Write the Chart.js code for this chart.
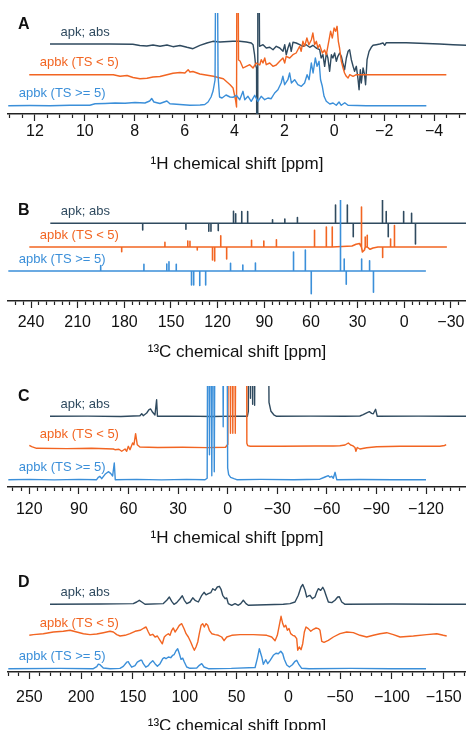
<!DOCTYPE html>
<html><head><meta charset="utf-8">
<script src="https://cdn.jsdelivr.net/npm/chart.js@4/dist/chart.umd.min.js"></script>
<style>
html,body{margin:0;padding:0;background:#fff;overflow:hidden;width:466px;height:730px;position:relative;}
canvas{position:absolute;left:0;}
</style></head><body>
<canvas id="cA"></canvas><canvas id="cB"></canvas><canvas id="cC"></canvas><canvas id="cD"></canvas>
<script>
// ---------- labels / categories ----------
const traceLabels = ['apbk (TS >= 5)', 'apbk (TS < 5)', 'apk; abs'];
const titleH = '\u00B9H chemical shift [ppm]';
const titleC = '\u00B9\u00B3C chemical shift [ppm]';
const aTicks = [12, 10, 8, 6, 4, 2, 0, -2, -4];
const bTicks = [240, 210, 180, 150, 120, 90, 60, 30, 0, -30];
const cTicks = [120, 90, 60, 30, 0, -30, -60, -90, -120];
const dTicks = [250, 200, 150, 100, 50, 0, -50, -100, -150];

// ---------- Panel A: 1H spectra [ppm, intensity] ----------
const aBlue = [[13.07,0],[12.20,0.2],[11.40,0],[10.60,0.4],[9.80,0.5],[9.59,1.9],[9.19,2.2],[8.79,2.7],[8.39,2.4],[7.99,3.2],[7.59,2.7],[7.40,4.7],[7.32,7.2],[7.23,3.7],[6.99,2.2],[6.71,4.7],[6.59,2],[6.19,1.2],[5.79,0.5],[5.38,0.7],[5.19,1.2],[5.06,3.7],[4.94,8.7],[4.86,14.7],[4.78,25.7],[4.72,300],[4.66,30],[4.60,8.7],[4.50,7.7],[4.34,10.7],[4.18,8.7],[4.06,8.4],[3.93,10.4],[3.79,6],[3.66,14.4],[3.59,6],[3.46,9.4],[3.33,4.4],[3.19,10.4],[3.06,4.4],[2.93,9.4],[2.79,6],[2.66,7.7],[2.53,7],[2.39,12.7],[2.26,16],[2.13,22.7],[2.06,29.4],[1.99,21],[1.86,26],[1.79,32.7],[1.72,22.7],[1.59,26],[1.46,21],[1.32,19.4],[1.19,22.7],[1.09,31],[1.01,26],[0.92,42.7],[0.85,32.7],[0.76,47.7],[0.69,39.4],[0.61,44.4],[0.55,26],[0.48,19.4],[0.41,9.4],[0.32,4.4],[0.18,1.7],[0.05,2.7],[-0.08,0.4],[-0.19,3.7],[-0.28,0.4],[-0.42,3],[-0.55,0.4],[-1.28,0],[-2.62,0],[-3.69,0]];
const aOrange = [[13.07,0],[12.24,0],[11.04,0],[9.70,0],[9.43,-1.6],[9.15,-0.8],[8.91,-2.8],[8.63,-4],[8.35,-3.6],[8.11,-2.3],[7.83,-1.8],[7.55,0],[7.31,1.4],[7.03,2.2],[6.83,1.7],[6.70,5],[6.63,2.7],[6.51,3.2],[6.23,0.7],[5.69,-1.6],[5.29,-4],[5.02,-10],[4.90,-13.3],[4.80,-25.3],[4.76,-32.3],[4.73,300],[4.68,14.7],[4.62,13.7],[4.50,6.7],[4.37,8.4],[4.23,10],[4.10,6.7],[3.97,11.7],[3.83,9.7],[3.77,15],[3.70,11.7],[3.63,16.7],[3.57,10],[3.43,11.7],[3.30,8.4],[3.17,9.7],[3.03,13.4],[2.90,16.7],[2.83,11.7],[2.77,18.4],[2.63,16.7],[2.50,20],[2.37,21.7],[2.23,28.4],[2.17,23.4],[2.10,33.4],[2.03,28.4],[1.94,36.7],[1.86,30],[1.76,35],[1.70,41.7],[1.63,30],[1.56,33.4],[1.50,26.7],[1.43,30],[1.32,21.7],[1.23,24.7],[1.16,20],[1.05,35],[0.99,43.4],[0.92,36.7],[0.85,46.7],[0.79,43.4],[0.73,48.4],[0.68,33.4],[0.63,26.7],[0.56,13.4],[0.49,6.7],[0.43,1.7],[0.36,-1.6],[0.29,-3.3],[0.22,0],[0.09,-1.6],[-0.04,0],[-0.44,0],[-3.65,0]];
const aDark = [[13.08,0],[11.88,0],[10.68,0],[9.76,-0.3],[9.48,-1.5],[9.20,-2],[8.95,-1],[8.67,-2.3],[8.39,-1],[8.15,-2.7],[7.87,-1.5],[7.59,-3.3],[7.35,-4.7],[7.07,-1.3],[6.79,1],[6.55,2.7],[6.27,2],[5.75,2.7],[5.48,2.7],[5.21,2],[5.01,1],[4.94,-0.7],[4.88,-10.7],[4.84,-20.7],[4.80,-24],[4.77,-300],[4.75,300],[4.68,-2.3],[4.54,-0.7],[4.41,-4],[4.27,-3.3],[4.14,-5.7],[4.01,-2.3],[3.87,-4],[3.74,-7.3],[3.67,-0.7],[3.61,-10.7],[3.54,-4],[3.47,1],[3.41,-7.3],[3.34,1.7],[3.21,1],[3.07,-0.7],[2.94,-2.3],[2.81,-0.7],[2.67,-3.3],[2.54,-1.3],[2.41,-4],[2.27,-5.7],[2.21,-14],[2.14,-10.7],[2.07,-22.3],[2.00,-9],[1.94,-14],[1.87,-27.3],[1.80,-10.7],[1.74,-14],[1.67,-9],[1.60,-17.3],[1.54,-12.3],[1.47,-9],[1.40,-12.3],[1.34,-19],[1.27,-25.7],[1.20,-14],[1.13,-7.3],[1.07,-5.7],[1.00,-15.7],[0.93,-22.3],[0.87,-27.3],[0.80,-22.3],[0.73,-35.7],[0.69,-45.7],[0.64,-25.7],[0.60,-39],[0.53,-24],[0.47,-30.7],[0.43,-40.7],[0.37,-15.7],[0.29,-7.3],[0.20,-3.3],[0.13,-1.3],[0.00,-0.7],[-0.14,0],[-0.27,1],[-0.34,-1.3],[-0.40,1.3],[-0.67,1.3],[-1.20,1.3],[-1.74,0.7],[-2.54,0],[-3.08,-0.7],[-3.68,-1.3]];

// ---------- Panel B: 13C stick spectra ----------
const bRange = [254.6, -13.9];
const bShifts = [195.2, 167.4, 152.7, 151.3, 146.6, 136.8, 135.4, 131.5, 127.7, 111.7, 103.8, 95.7, 71.2, 63.6, 59.8, 41.0, 38.6, 37.3, 27.4, 22.3, 19.8];
const bBlue   = [5.5, 6.7, 7, 9.3, 6.7, -14, -14, -14.5, -14, 7.7, 6, 8, 19, 21, -22.7, 80, 12, -13.3, 12, 10.3, -21.3];
const bOrange = [-4.7, 4.7, 6, 5.7, -3, -13, -14, 11.3, -12, 6.7, 6, 7.3, 16.7, 20, 20, 40, 10, 11.7, -10.5, 8, 21.5];
const bDark   = [-6.6, -6, -8, -8, -7.3, 12, 9.4, 11.7, 11.7, 3.5, 4.3, 5.7, 18.3, 18.3, -13.4, 40, 11.7, -13.4, 11.7, 10, -20.7];
const bOrangeBaseline = [[47.1,1],[44.5,2.7],[42.3,3.5],[40.4,-5],[39.1,-3],[37.8,0],[35.5,-2.3],[33.6,-1],[30.4,0]];

// ---------- Panel C: 1H spectra ----------
const cBlue = [[132.7,0],[120,0.3],[105,-0.2],[90,0.3],[79.3,0],[78.3,2.4],[77.3,3.4],[76.2,1],[74.2,5.4],[72.2,8],[70.8,6.4],[69.6,3.7],[68.6,16.7],[68.0,0],[55,0.3],[40,-0.2],[25,0.3],[13.7,0],[12.4,1.5],[11.8,300],[11.0,25],[10.3,300],[9.6,4],[8.8,300],[8.1,8],[7.3,300],[3.3,300],[2.7,53],[2.1,300],[0.7,300],[0.0,11.7],[-0.6,5],[-1.8,2.3],[-3.8,1],[-5.5,0],[-20,0.3],[-40,0],[-55.8,0.5],[-58.9,2.7],[-60.9,4],[-61.9,2.5],[-62.9,3.4],[-63.9,1.5],[-65.0,7.4],[-66.0,0],[-80,0.2],[-100,0],[-120,0]];
const cOrange = [[132.7,1],[131.3,-0.3],[128.3,-2],[110,-2.3],[95,-2],[81.9,-2.7],[80.9,-3.4],[78.5,-3],[76.8,-5],[74.8,-2.7],[73.8,-5],[72.8,0],[71.8,-3.4],[70.2,3.3],[69.4,1.6],[68.4,12.6],[67.4,1.6],[65.8,-0.7],[55,-1.2],[40,-1],[25,-1.3],[14,-1],[12.6,2],[11.8,300],[11.0,13],[10.3,300],[9.6,13],[8.8,300],[8.1,13],[7.3,300],[1.5,300],[1.1,3],[0.6,0.7],[-1,0],[-20,0],[-40,0.3],[-51.2,0.3],[-55.2,0.6],[-58.3,1.3],[-60.3,3.3],[-61.7,1.3],[-62.9,0.7],[-64.3,-1.2],[-64.9,-5],[-65.7,-1.2],[-67.3,-2.7],[-71.4,-1.5],[-77.4,-0.5],[-91.5,0],[-115.7,0],[-118.5,0.8],[-119.5,1.6]];
const cDark = [[132.9,0],[110,0.2],[90,-0.2],[78.5,0.6],[77.4,2.6],[76.5,0.6],[74.4,3.3],[73.0,6.6],[72.0,7.3],[70.8,4],[69.4,1.3],[68.4,16.5],[67.9,0],[50,0.2],[35,-0.2],[20,0.2],[13.5,0],[12.9,5],[12.3,300],[11.6,18],[10.9,300],[10.3,12],[9.9,300],[9.1,11],[8.3,300],[1.6,300],[0.4,14],[-0.8,5],[-2.5,1.5],[-4.2,0],[-25,0.2],[-45,0],[-54.6,0.3],[-56.6,1.6],[-58.7,3.5],[-60.3,4.6],[-61.7,3],[-62.7,2.5],[-64.1,7],[-65.1,0],[-90,0.2],[-110,0],[-120,0]];

// ---------- Panel D: 13C spectra ----------
const dBlue = [[270.3,0],[220.4,0.3],[188.2,0],[184.9,2],[183.4,4.5],[181.8,4],[178.6,0.7],[172.1,0],[162.5,0.3],[159.3,2.3],[156.0,6.5],[154.4,7],[153.5,5],[151.2,1.5],[148.0,3],[145.8,6.5],[142.5,8.5],[141.5,8.5],[140.0,5],[137.6,1.5],[135.1,3],[133.5,5.5],[130.9,8],[128.7,5],[126.4,2.4],[123.8,5],[121.2,10],[119.7,11],[118.1,10],[115.8,11.7],[113.5,11],[111.6,13.4],[110.3,14],[108.4,18],[106.8,20],[105.2,15],[103.6,9.4],[101.9,10.5],[100.4,6.7],[98.1,1.7],[94.9,0.4],[88.4,0.7],[85.9,3.4],[83.6,5],[81.4,1.7],[77.2,0],[55,0.3],[32.1,1.2],[29.9,10.4],[28.0,20],[25.7,12],[24.1,4.4],[21.8,9],[19.9,5],[17.7,8],[14.5,13.4],[11.9,15.5],[9.7,15],[7.3,17.5],[5.4,15],[3.9,9.4],[1.5,3.7],[-1.0,1.7],[-3.9,4],[-6.5,7.4],[-8.1,8.4],[-10.3,4],[-12.9,0.4],[-20,0],[-60,0.3],[-100,0],[-132.9,0]];
const dOrange = [[270.3,0],[266.4,0.7],[256.8,1.6],[247.1,3.3],[237.5,4],[231.0,5],[224.5,3.3],[218.1,1.6],[211.7,0.7],[205.2,1.3],[198.8,2.6],[192.4,4],[189.2,3.3],[185.9,0.7],[182.7,-0.7],[177.9,0],[173.1,1.6],[168.2,4],[163.4,5],[159.6,7.3],[157.6,8.3],[155.4,3.3],[153.8,0],[151.2,1],[148.9,-1.7],[146.7,-0.7],[144.1,-5],[141.9,-8.5],[140.0,-1.7],[138.3,0],[136.1,1.6],[134.5,0],[132.8,5],[131.3,7.3],[129.6,3.3],[127.4,6.6],[125.5,10],[123.2,11.6],[120.9,6.6],[119.0,1.6],[116.8,-1.7],[114.5,-6.7],[112.5,-11.7],[111.0,-15],[109.4,-11.7],[107.7,-6.7],[106.2,1.6],[104.5,10],[102.9,11.6],[101.4,8.3],[99.7,11.6],[98.1,10],[96.5,5],[94.2,1.6],[91.0,0.7],[87.8,0],[84.6,-1.7],[82.3,-5.4],[79.7,-1.7],[74.9,0],[66.9,0.7],[54.1,0.7],[41.1,0],[36.3,-1.7],[33.1,-5.4],[30.9,0],[29.0,10],[27.3,19],[25.7,11.7],[24.4,8.3],[22.8,10],[21.2,5],[19.6,6.7],[18.0,1.7],[16.0,0],[14.1,-0.7],[12.2,-3.3],[11.2,-15],[9.7,-11.7],[8.0,-14.4],[6.4,-8.4],[4.8,3.3],[3.2,8.3],[1.0,6.7],[-1.4,4],[-3.9,6],[-6.5,7.3],[-8.7,6.7],[-10.3,5],[-12.0,-6],[-14.2,-7],[-18.3,-5],[-23.2,-1.7],[-29.6,1.7],[-36.1,3.3],[-42.5,2.7],[-48.9,0],[-55.4,-1.7],[-61.8,0],[-68.2,1.6],[-74.7,2.6],[-81.1,0.7],[-87.6,-1.7],[-100.4,-0.7],[-113.3,0.7],[-123.0,1.6],[-129.3,0],[-132.6,-0.7]];
const dDark = [[270.6,0],[222,0.3],[190.2,0.7],[186.9,2.3],[184.4,4],[182.0,2.3],[178.9,0],[161.2,0.7],[157.9,4],[155.4,7.3],[153.1,3],[150.9,0],[148.3,1.7],[145.1,5.6],[142.9,8.5],[140.9,4],[138.6,0.7],[135.4,2.3],[132.8,6.5],[130.6,4],[127.4,2.3],[124.1,9],[121.9,12],[120.0,9.5],[117.8,10.6],[115.4,11.6],[113.5,15.6],[111.3,14],[109.1,17.3],[107.1,18],[105.5,15],[103.9,9],[101.6,5.6],[100.0,6.3],[98.5,0.7],[95.2,-1],[92.0,0.7],[88.8,-1],[86.5,0.7],[84.0,4],[81.4,0.7],[79.2,-1],[45.4,0],[38.9,0.7],[34.1,2.3],[30.9,9],[28.3,17.3],[26.6,19.8],[24.4,14],[22.8,7.3],[21.2,8.3],[19.6,9],[17.4,5.6],[14.8,7.3],[13.1,12.3],[11.6,15.6],[9.3,14],[7.3,17],[5.8,14],[4.2,9],[1.9,2.3],[-1.4,1.7],[-4.5,4],[-7.1,7.3],[-8.7,7.6],[-11.0,2.3],[-14.2,0],[-60,0.3],[-100,0],[-132.9,0]];

// ---------- styling / layout ----------
const FONT = "'Liberation Sans', Arial, Helvetica, sans-serif";
const traceColors = ['#3b8fd9', '#f26522', '#2f4a5f'];
const SHIFT_PX = 21;       // horizontal stagger between stacked traces
const PLOT_LEFT = 8;
const W = 466;

function stickTrace(heights, baseline) {
  const pts = [[bRange[0], 0]];
  bShifts.forEach((s, i) => { pts.push([s, 0], [s, heights[i]], [s, 0]); });
  (baseline || []).forEach(b => pts.push(b));
  pts.push([bRange[1], 0]);
  return pts.sort((a, b) => b[0] - a[0]);
}

const panels = [
  {id:'cA', letter:'A', top:0, height:178, chartTop:13, axisY:114, left:13.08, right:-5.28,
   majors:aTicks, minorStep:0.5, title:titleH, tickPad:1, titlePad:12, offsets:[8.3, 39.3, 70],
   letterY:28.5, lw:1.4, traces:[aBlue, aOrange, aDark]},
  {id:'cB', letter:'B', top:185, height:181, chartTop:200, axisY:301, left:254.8, right:-39.7,
   majors:bTicks, minorStep:5, title:titleC, tickPad:5, titlePad:5, offsets:[30, 54, 77.7],
   letterY:214.5, lw:1.6, traces:[stickTrace(bBlue), stickTrace(bOrange, bOrangeBaseline), stickTrace(bDark)]},
  {id:'cC', letter:'C', top:370, height:182, chartTop:386, axisY:487, left:132.9, right:-144.2,
   majors:cTicks, minorStep:5, title:titleH, tickPad:6, titlePad:3, offsets:[7.3, 40.7, 70.7],
   letterY:400.5, lw:1.4, traces:[cBlue, cOrange, cDark]},
  {id:'cD', letter:'D', top:555, height:186, chartTop:574, axisY:672, left:270.6, right:-171.5,
   majors:dTicks, minorStep:10, title:titleC, tickPad:9, titlePad:0, offsets:[3.3, 36.7, 67.7],
   letterY:587, lw:1.4, traces:[dBlue, dOrange, dDark]}
];

function fmt(v) { return v < 0 ? '\u2212' + Math.abs(v) : String(v); }

function makeChart(p) {
  const cv = document.getElementById(p.id);
  cv.width = W; cv.height = p.height; cv.style.top = p.top + 'px';
  const ppmPerPx = (p.left - p.right) / (W - PLOT_LEFT);
  const shift = SHIFT_PX * ppmPerPx;
  const tickFont = 16, titleFont = 17, tickLen = 7;
  const axisH = tickLen + 2 * p.tickPad + tickFont * 1.2 + p.titlePad + titleFont * 1.2;
  const padBottom = p.height - (p.axisY - p.top) - axisH;
  const tickVals = [];
  for (let v = Math.ceil(p.right / p.minorStep) * p.minorStep; v <= p.left + 1e-9; v += p.minorStep) tickVals.push(+v.toFixed(6));
  const isMajor = v => p.majors.some(m => Math.abs(m - v) < 1e-6);
  const axisIds = ['x', 'x1', 'x2'];
  const datasets = p.traces.map((tr, k) => ({
    label: traceLabels[k],
    data: tr.map(([x, y]) => ({x: x, y: y + p.offsets[k]})),
    xAxisID: axisIds[k], yAxisID: 'y',
    borderColor: traceColors[k], borderWidth: p.lw, pointRadius: 0, tension: 0, fill: false,
    borderJoinStyle: 'round', spanGaps: true
  }));
  const hiddenX = k => ({type:'linear', display:false, reverse:true, min:p.right + k * shift, max:p.left + k * shift});
  const overlay = {
    id: 'overlay_' + p.id,
    afterDatasetsDraw(chart) {
      const ctx = chart.ctx;
      ctx.save();
      ctx.font = '13px ' + FONT;
      ctx.textBaseline = 'middle'; ctx.textAlign = 'left';
      chart.data.datasets.forEach((ds, k) => {
        const xs = chart.scales[ds.xAxisID], ys = chart.scales.y;
        const x0 = xs.getPixelForValue(ds.data[0].x) + 10.5;
        const y0 = ys.getPixelForValue(p.offsets[k]) - 12;
        ctx.fillStyle = ds.borderColor;
        ctx.fillText(ds.label, x0, y0);
      });
      ctx.font = 'bold 16px ' + FONT;
      ctx.fillStyle = '#111';
      ctx.textBaseline = 'alphabetic';
      ctx.fillText(p.letter, 18, p.letterY - p.top);
      ctx.restore();
    }
  };
  return new Chart(cv, {
    type: 'line',
    data: {datasets},
    options: {
      responsive: false, animation: false, devicePixelRatio: 1,
      layout: {padding: {left: PLOT_LEFT, right: 0, top: p.chartTop - p.top, bottom: padBottom}},
      plugins: {legend: {display: false}, tooltip: {enabled: false}},
      scales: {
        x: {
          type: 'linear', reverse: true, min: p.right, max: p.left, position: 'bottom',
          afterBuildTicks: s => { s.ticks = tickVals.map(v => ({value: v})); },
          ticks: {autoSkip: false, maxRotation: 0, minRotation: 0, padding: p.tickPad, color: '#111',
                  font: {family: FONT, size: tickFont},
                  callback: v => isMajor(v) ? fmt(Math.round(v * 100) / 100) : ''},
          grid: {drawOnChartArea: false, drawTicks: true, tickLength: tickLen, tickColor: '#222', tickWidth: 1.2,
                 tickBorderDash: ctx => (ctx.tick && isMajor(ctx.tick.value)) ? [] : [3.5, 30]},
          border: {display: true, color: '#222', width: 1.5},
          title: {display: true, text: p.title, color: '#111', font: {family: FONT, size: titleFont},
                  padding: {top: p.titlePad, bottom: 0}}
        },
        x1: hiddenX(1), x2: hiddenX(2),
        y: {type: 'linear', display: false, min: 0, max: p.axisY - p.chartTop}
      }
    },
    plugins: [overlay]
  });
}
panels.forEach(makeChart);
</script>
</body></html>
